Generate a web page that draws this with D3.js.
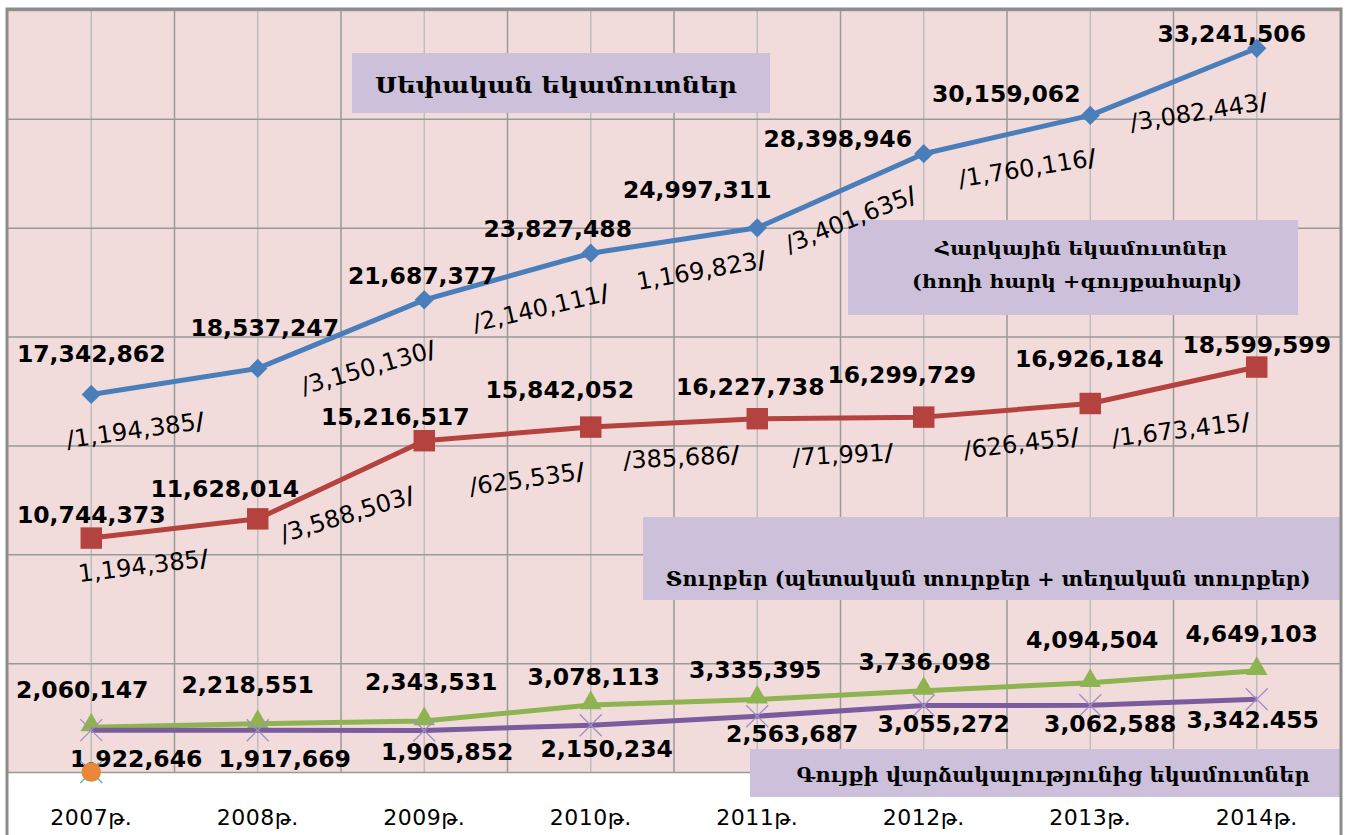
<!DOCTYPE html>
<html>
<head>
<meta charset="utf-8">
<script src="https://d3js.org/d3.v7.min.js"></script>
<style>
    body { margin: 0; background: #fff; }
    .value-label { font-family: 'DejaVu Sans', sans-serif; font-weight: bold; font-size: 23.5px; fill: #000; text-anchor: middle; }
    .delta-label { font-family: 'DejaVu Sans', sans-serif; font-size: 24px; fill: #000; text-anchor: middle; dominant-baseline: central; }
    .note-text { font-family: 'DejaVu Serif', 'DejaVu Sans', serif; font-weight: bold; fill: #000; text-anchor: middle; }
    .x-axis text { font-family: 'DejaVu Sans', sans-serif; font-size: 22px; letter-spacing: 0.5px; fill: #000; }
</style>
</head>
<body>
<div id="chart"></div>
<script>
var WIDTH = 1348
var HEIGHT = 835

var YEARS = ['2007թ.', '2008թ.', '2009թ.', '2010թ.', '2011թ.', '2012թ.', '2013թ.', '2014թ.']

var OWN_REVENUE = [17342862, 18537247, 21687377, 23827488, 24997311, 28398946, 30159062, 33241506]
var TAX_REVENUE = [10744373, 11628014, 15216517, 15842052, 16227738, 16299729, 16926184, 18599599]
var DUTIES = [2060147, 2218551, 2343531, 3078113, 3335395, 3736098, 4094504, 4649103]
var RENT_REVENUE = [1922646, 1917669, 1905852, 2150234, 2563687, 3055272, 3062588, 3342455]
var OTHER = [0]

var RENT_LABELS = ['1,922,646', '1,917,669', '1,905,852', '2,150,234', '2,563,687', '3,055,272', '3,062,588', '3,342.455']

var OWN_DELTAS = ['/1,194,385/', null, '/3,150,130/', '/2,140,111/', '1,169,823/', '/3,401,635/', '/1,760,116/', '/3,082,443/']
var TAX_DELTAS = ['1,194,385/', null, '/3,588,503/', '/625,535/', '/385,686/', '/71,991/', '/626,455/', '/1,673,415/']

var NOTE_TEXTS = [
    ['Սեփական եկամուտներ'],
    ['Հարկային եկամուտներ', '(հողի հարկ +գույքահարկ)'],
    ['Տուրքեր  (պետական տուրքեր + տեղական տուրքեր)'],
    ['Գույքի  վարձակալությունից եկամուտներ']
]

// label placement, offsets from the point [dx, dy] or [dx, dy, angle]
var OWN_LABEL_POS = [[0, -32], [7, -32], [-2, -16], [-33, -16], [-60, -30], [-86, -7], [-84, -13], [-25, -6]]
var TAX_LABEL_POS = [[0, -15], [-33, -22], [-29, -16], [-31, -29], [-7, -24], [-22, -34], [-1, -36], [0, -14]]
var DUTY_LABEL_POS = [[-9, -29], [-10, -31], [7, -31], [3, -20], [-2, -21], [1, -21], [2, -35], [-5, -29]]
var RENT_LABEL_POS = [[45, 37], [27, 37], [23, 29], [16, 32], [35, 26], [20, 27], [20, 27], [-4, 29]]
var OWN_DELTA_POS = [[44, 36, -8], null, [-56, 68, -16], [-50, 55, -13], [-56, 43, -10], [-73, 66, -22], [-63, 53, -9], [-58, 64, -9]]
var TAX_DELTA_POS = [[52, 28, -7], null, [-77, 74, -17], [-64, 52, -8], [-76, 39, -3], [-81, 38, -3], [-69, 40, -7], [-76, 63, -7]]

var NOTE_BOXES = [
    { x: 352, y: 53, w: 418, h: 60, size: 22, lines: [[556, 93, 362]] },
    { x: 848, y: 220, w: 450, h: 95, size: 19, lines: [[1081, 255, 292], [1077, 288, 330]] },
    { x: 643, y: 517, w: 697, h: 83, size: 20, lines: [[988, 586, 645]] },
    { x: 750, y: 749, w: 590, h: 48, size: 20, lines: [[1053, 782, 513]] }
]

var Chart = function () {
    this.setup()
}

Chart.prototype = {
    setup: function () {
        var chart = this

        chart.svg = d3.select('#chart')
            .append('svg')
            .attr('width', WIDTH)
            .attr('height', HEIGHT)

        chart.x = d3.scaleBand().domain(YEARS).range([8, 1340])
        chart.y = d3.scaleLinear().domain([0, 35000000]).range([772, 10])

        var x = chart.x
        var y = chart.y
        var plotW = x.range()[1] - x.range()[0]
        var plotH = y.range()[0] - y.range()[1]

        chart.svg.append('rect')
            .attr('x', x.range()[0])
            .attr('y', y.range()[1])
            .attr('width', plotW)
            .attr('height', plotH)
            .attr('fill', '#F2DCDB')

        // light lines through the categories
        chart.svg.append('g')
            .attr('transform', 'translate(0,' + y.range()[0] + ')')
            .call(d3.axisBottom(x).tickSize(-plotH).tickFormat(''))
            .call(function (g) {
                g.select('.domain').remove()
                g.selectAll('line').attr('stroke', '#BDBDBD').attr('stroke-width', 1.5)
            })

        // darker lines between the categories
        chart.svg.append('g')
            .selectAll('line')
            .data(YEARS.slice(1))
            .enter().append('line')
            .attr('x1', function (d) { return x(d) })
            .attr('x2', function (d) { return x(d) })
            .attr('y1', y.range()[1])
            .attr('y2', y.range()[0])
            .attr('stroke', '#999')
            .attr('stroke-width', 1.5)

        chart.svg.append('g')
            .attr('transform', 'translate(' + x.range()[0] + ',0)')
            .call(d3.axisLeft(y).ticks(7).tickSize(-plotW).tickFormat(''))
            .call(function (g) {
                g.select('.domain').remove()
                g.selectAll('line').attr('stroke', '#999').attr('stroke-width', 1.5)
            })

        chart.svg.append('g')
            .attr('class', 'x-axis')
            .attr('transform', 'translate(0,' + y.range()[0] + ')')
            .call(d3.axisBottom(x).tickSize(0).tickPadding(37))
            .call(function (g) { g.select('.domain').remove() })

        chart.svg.selectAll('.note')
            .data(NOTE_BOXES)
            .enter().append('rect')
            .attr('class', 'note')
            .attr('x', function (d) { return d.x })
            .attr('y', function (d) { return d.y })
            .attr('width', function (d) { return d.w })
            .attr('height', function (d) { return d.h })
            .attr('fill', '#CCC0DA')

        NOTE_BOXES.forEach(function (box, i) {
            box.lines.forEach(function (pos, j) {
                chart.svg.append('text')
                    .attr('class', 'note-text')
                    .attr('x', pos[0])
                    .attr('y', pos[1])
                    .attr('textLength', pos[2])
                    .attr('lengthAdjust', 'spacingAndGlyphs')
                    .style('font-size', box.size + 'px')
                    .text(NOTE_TEXTS[i][j])
            })
        })

        chart.drawSeries(OWN_REVENUE, { color: '#4A7EBB', marker: 'diamond', labelPos: OWN_LABEL_POS })
        chart.drawSeries(TAX_REVENUE, { color: '#B4423F', marker: 'square', labelPos: TAX_LABEL_POS })
        chart.drawSeries(DUTIES, { color: '#8DB451', marker: 'triangle', labelPos: DUTY_LABEL_POS })
        chart.drawSeries(RENT_REVENUE, { color: '#7A5C9E', marker: 'x', labelPos: RENT_LABEL_POS, labels: RENT_LABELS })
        chart.drawSeries(OTHER, { color: '#4BACC6', marker: 'x' })
        chart.drawSeries(OTHER, { color: '#E8863A', marker: 'circle' })

        chart.drawDeltas(OWN_REVENUE, OWN_DELTAS, OWN_DELTA_POS)
        chart.drawDeltas(TAX_REVENUE, TAX_DELTAS, TAX_DELTA_POS)

        chart.svg.append('rect')
            .attr('x', 7)
            .attr('y', 9)
            .attr('width', 1334)
            .attr('height', 850)
            .attr('fill', 'none')
            .attr('stroke', '#8C8C8C')
            .attr('stroke-width', 3)
    },

    px: function (i) {
        return this.x(YEARS[i]) + this.x.bandwidth() / 2
    },

    drawSeries: function (values, opts) {
        var chart = this
        var y = chart.y
        var g = chart.svg.append('g')

        var line = d3.line()
            .x(function (d, i) { return chart.px(i) })
            .y(function (d) { return y(d) })

        if (values.length > 1) {
            g.append('path')
                .datum(values)
                .attr('d', line)
                .attr('fill', 'none')
                .attr('stroke', opts.color)
                .attr('stroke-width', 5)
                .attr('stroke-linejoin', 'round')
        }

        var markers = g.selectAll('.marker')
            .data(values)
            .enter().append('g')
            .attr('transform', function (d, i) { return 'translate(' + chart.px(i) + ',' + y(d) + ')' })

        if (opts.marker === 'x') {
            var s = 11
            markers.append('path')
                .attr('d', 'M' + -s + ',' + -s + 'L' + s + ',' + s + 'M' + -s + ',' + s + 'L' + s + ',' + -s)
                .attr('stroke', opts.color === '#4BACC6' ? '#4BACC6' : '#A08EC4')
                .attr('stroke-width', 1.3)
        } else {
            var symbols = {
                diamond: d3.symbol().type(d3.symbolSquare).size(185),
                square: d3.symbol().type(d3.symbolSquare).size(460),
                triangle: d3.symbol().type(d3.symbolTriangle).size(200),
                circle: d3.symbol().type(d3.symbolCircle).size(300)
            }
            markers.append('path')
                .attr('d', symbols[opts.marker])
                .attr('transform', opts.marker === 'diamond' ? 'rotate(45)' : opts.marker === 'triangle' ? 'translate(0,-2)' : null)
                .attr('fill', opts.color)
        }

        if (!opts.labelPos) return

        var fmt = d3.format(',')
        g.selectAll('.value-label')
            .data(values)
            .enter().append('text')
            .attr('class', 'value-label')
            .attr('x', function (d, i) { return chart.px(i) + opts.labelPos[i][0] })
            .attr('y', function (d, i) { return y(d) + opts.labelPos[i][1] })
            .text(function (d, i) { return opts.labels ? opts.labels[i] : fmt(d) })
    },

    drawDeltas: function (values, deltas, pos) {
        var chart = this
        var y = chart.y

        deltas.forEach(function (label, i) {
            if (!label) return
            var cx = chart.px(i) + pos[i][0]
            var cy = y(values[i]) + pos[i][1]
            var t = chart.svg.append('text')
                .attr('class', 'delta-label')
                .attr('transform', 'translate(' + cx + ',' + cy + ') rotate(' + pos[i][2] + ')')
            t.append('tspan').text(label.slice(0, -1))
            t.append('tspan').style('font-weight', 'bold').text(label.slice(-1))
        })
    }
}

var app = new Chart()
</script>
</body>
</html>
